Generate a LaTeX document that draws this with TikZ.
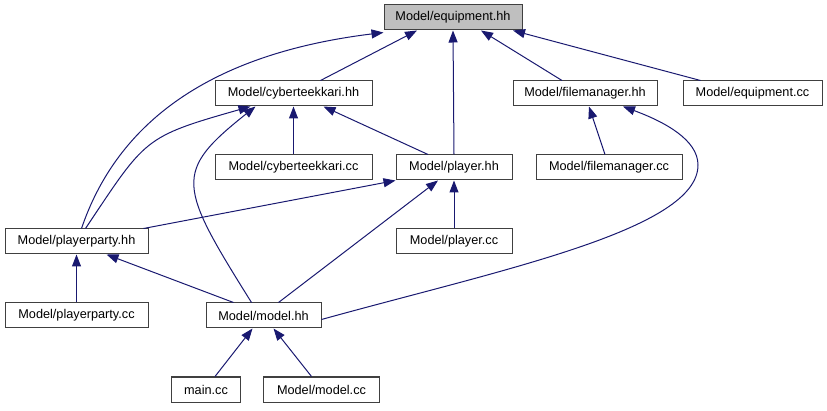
\documentclass[tikz,border=0pt]{standalone}
\usepackage{fontspec}
\setmainfont{Liberation Sans}
\usepackage{tikz}
\usepackage{xcolor}
\usetikzlibrary{arrows.meta,calc,positioning}
\definecolor{depblue}{RGB}{25,25,112}
\definecolor{boxgray}{RGB}{64,64,64}
\definecolor{rootgray}{RGB}{191,191,191}

\begin{document}
\begin{tikzpicture}[x=1pt,y=-1pt,>={Triangle[length=12pt,width=9pt]},
	file/.style={draw=boxgray,fill=white,line width=1pt,minimum height=25pt,inner sep=0pt,font=\fontsize{12.7}{14}\selectfont},
	dep/.style={->,depblue,line width=1pt}]
		\useasboundingbox (0,0) rectangle (827,411);
		% files, row by row
		\node[file,fill=rootgray,minimum width=138pt] (eqhh) at (453,17.5) {Model/equipment.hh};
		\node[file,minimum width=157pt] (cyhh) at (293.5,93.5) {Model/cyberteekkari.hh};
		\node[file,minimum width=144pt] (fmhh) at (585,93.5) {Model/filemanager.hh};
		\node[file,minimum width=139pt] (eqcc) at (752.5,93.5) {Model/equipment.cc};
		\node[file,minimum width=157pt] (cycc) at (293.5,167.5) {Model/cyberteekkari.cc};
		\node[file,minimum width=116pt] (plhh) at (454,167.5) {Model/player.hh};
		\node[file,minimum width=146pt] (fmcc) at (609,167.5) {Model/filemanager.cc};
		\node[file,minimum width=143pt] (pphh) at (76.5,241.5) {Model/playerparty.hh};
		\node[file,minimum width=116pt] (plcc) at (454,241.5) {Model/player.cc};
		\node[file,minimum width=143pt] (ppcc) at (76.5,315.5) {Model/playerparty.cc};
		\node[file,minimum width=115pt] (mdhh) at (263.5,315.5) {Model/model.hh};
		\node[file,minimum width=69pt] (main) at (206,389.5) {main.cc};
		\node[file,minimum width=116pt] (mdcc) at (321.5,389.5) {Model/model.cc};
		% includes
		\draw[dep] ([xshift=5pt]pphh.north) .. controls (115,130) and (200,55) .. ([yshift=-2pt]eqhh.south west);
		\draw[dep] ([xshift=27pt]cyhh.north) -- ([xshift=-36pt]eqhh.south);
		\draw[dep] (plhh.north) -- (eqhh.south);
		\draw[dep] ([xshift=-23pt]fmhh.north) -- ([xshift=28pt]eqhh.south);
		\draw[dep] ([xshift=-52pt]eqcc.north) -- ([xshift=60pt]eqhh.south);
		\draw[dep] (cycc.north) -- (cyhh.south);
		\draw[dep] ([xshift=-26pt]plhh.north) -- ([xshift=30pt]cyhh.south);
		\draw[dep] ([xshift=9pt]pphh.north) .. controls (146,138) and (143,137) .. ([xshift=-43pt]cyhh.south);
		\draw[dep] ([xshift=-12pt]mdhh.north) .. controls (178,185) and (173,172) .. ([xshift=-38pt]cyhh.south);
		\draw[dep] ([xshift=-5pt]pphh.north east) -- (plhh.south west);
		\draw[dep] ([xshift=15pt]mdhh.north) -- ([xshift=-16pt]plhh.south);
		\draw[dep] (plcc.north) -- (plhh.south);
		\draw[dep] ([xshift=-4pt]fmcc.north) -- ([xshift=4pt]fmhh.south);
		\draw[dep] ([yshift=-4pt]mdhh.east) .. controls (500,270) and (698,230) .. (698,165)
			.. controls (698,140) and (665,122) .. ([xshift=38pt]fmhh.south);
		\draw[dep] ([xshift=-30pt]mdhh.north) -- ([xshift=30pt]pphh.south);
		\draw[dep] (ppcc.north) -- (pphh.south);
		\draw[dep] ([xshift=9pt]main.north) -- ([xshift=-11pt]mdhh.south);
		\draw[dep] ([xshift=-10pt]mdcc.north) -- ([xshift=10pt]mdhh.south);
\end{tikzpicture}
\end{document}
